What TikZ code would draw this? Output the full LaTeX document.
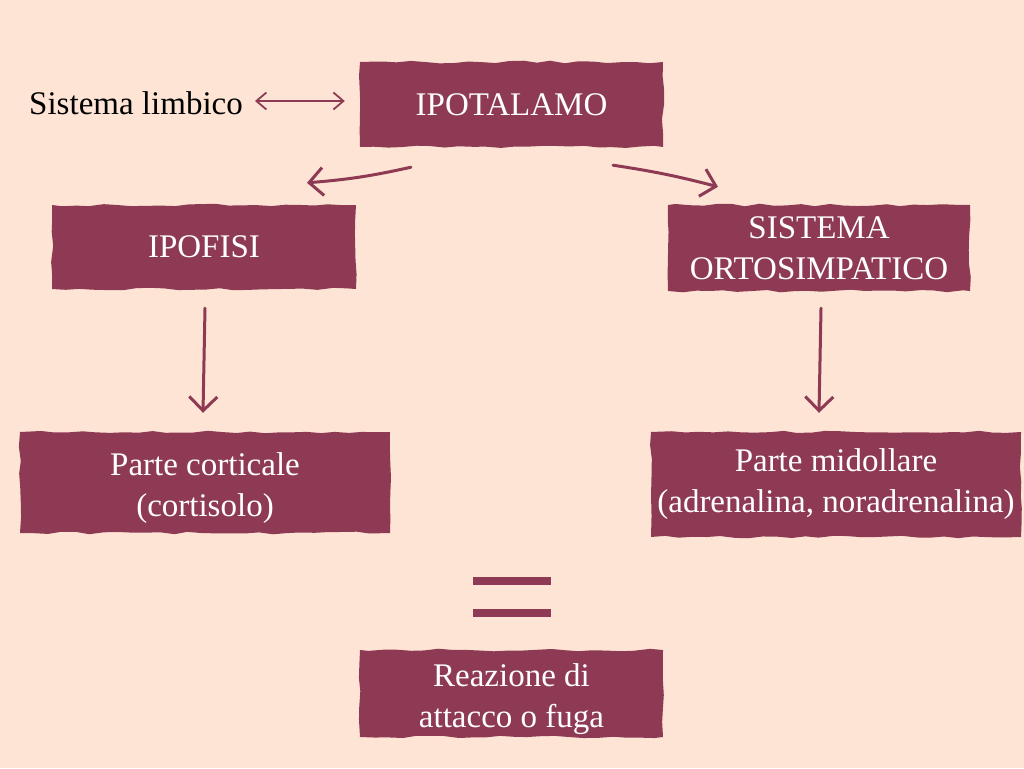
\documentclass[tikz,border=0pt]{standalone}
\usepackage{fontspec}
\setmainfont{Liberation Serif}
\usetikzlibrary{decorations.pathmorphing,arrows.meta,calc}
\definecolor{bg}{HTML}{FDE4D4}
\definecolor{wine}{HTML}{8E3A55}
\tikzset{
  box/.style={fill=wine, text=white, inner sep=0pt, align=center,
    font=\fontsize{33}{41}\selectfont,
    decoration={random steps, segment length=14pt, amplitude=1.3pt}, decorate},
  conn/.style={draw=wine, line width=3pt, line cap=round,
    -{Straight Barb[length=14pt,width=28pt,line width=3pt]}},
  dconn/.style={draw=wine, line width=1.8pt, line cap=round,
    {Straight Barb[length=10pt,width=17pt,line width=1.8pt]}-{Straight Barb[length=10pt,width=17pt,line width=1.8pt]}},
}
\newcommand{\lowtwo}[2]{\raisebox{-5pt}[\height][\depth]{\begin{tabular}{@{}c@{}}#1\\#2\end{tabular}}}
\begin{document}
\begin{tikzpicture}[x=1pt,y=-1pt]
\pgfmathsetseed{7}
\fill[bg] (0,0) rectangle (1024,768);
\useasboundingbox (0,0) rectangle (1024,768);

\node[font=\fontsize{33}{41}\selectfont, inner sep=0pt] (limb) at (136,103) {Sistema limbico};
\node[box, minimum width=303pt, minimum height=85pt] (ipot) at (511.5,104.5) {IPOTALAMO};
\node[box, minimum width=304pt, minimum height=84pt] (ipof) at (204,247) {IPOFISI};
\node[box, minimum width=302pt, minimum height=86pt] (orto) at (819,248) {SISTEMA\\ORTOSIMPATICO};
\node[box, minimum width=370pt, minimum height=101pt] (cort) at (205,482.5) {\lowtwo{Parte corticale}{(cortisolo)}};
\node[box, minimum width=370pt, minimum height=105pt] (mido) at (836,484.5) {Parte midollare\\(adrenalina, noradrenalina)};
\node[box, minimum width=303pt, minimum height=87pt] (reaz) at (511.5,693.5) {\lowtwo{Reazione di}{attacco o fuga}};

\fill[wine] (473,577) rectangle (551,585);
\fill[wine] (473,609) rectangle (551,617);

\draw[dconn] ($(limb.east)+(12,-2)$) -- ($(ipot.west)+(-15,-3.5)$);
\draw[conn] ($(ipot.south)+(-100.5,20)$) to[bend left=4] ($(ipof.north)+(103,-22)$);
\draw[conn] ($(ipot.south)+(101.5,18)$) to[bend left=3] ($(orto.north)+(-101,-18)$);
\draw[conn] ($(ipof.south)+(1,19)$) -- ($(cort.north)+(-2,-19)$);
\draw[conn] ($(orto.south)+(2,17)$) -- ($(mido.north)+(-17,-19)$);
\end{tikzpicture}
\end{document}
